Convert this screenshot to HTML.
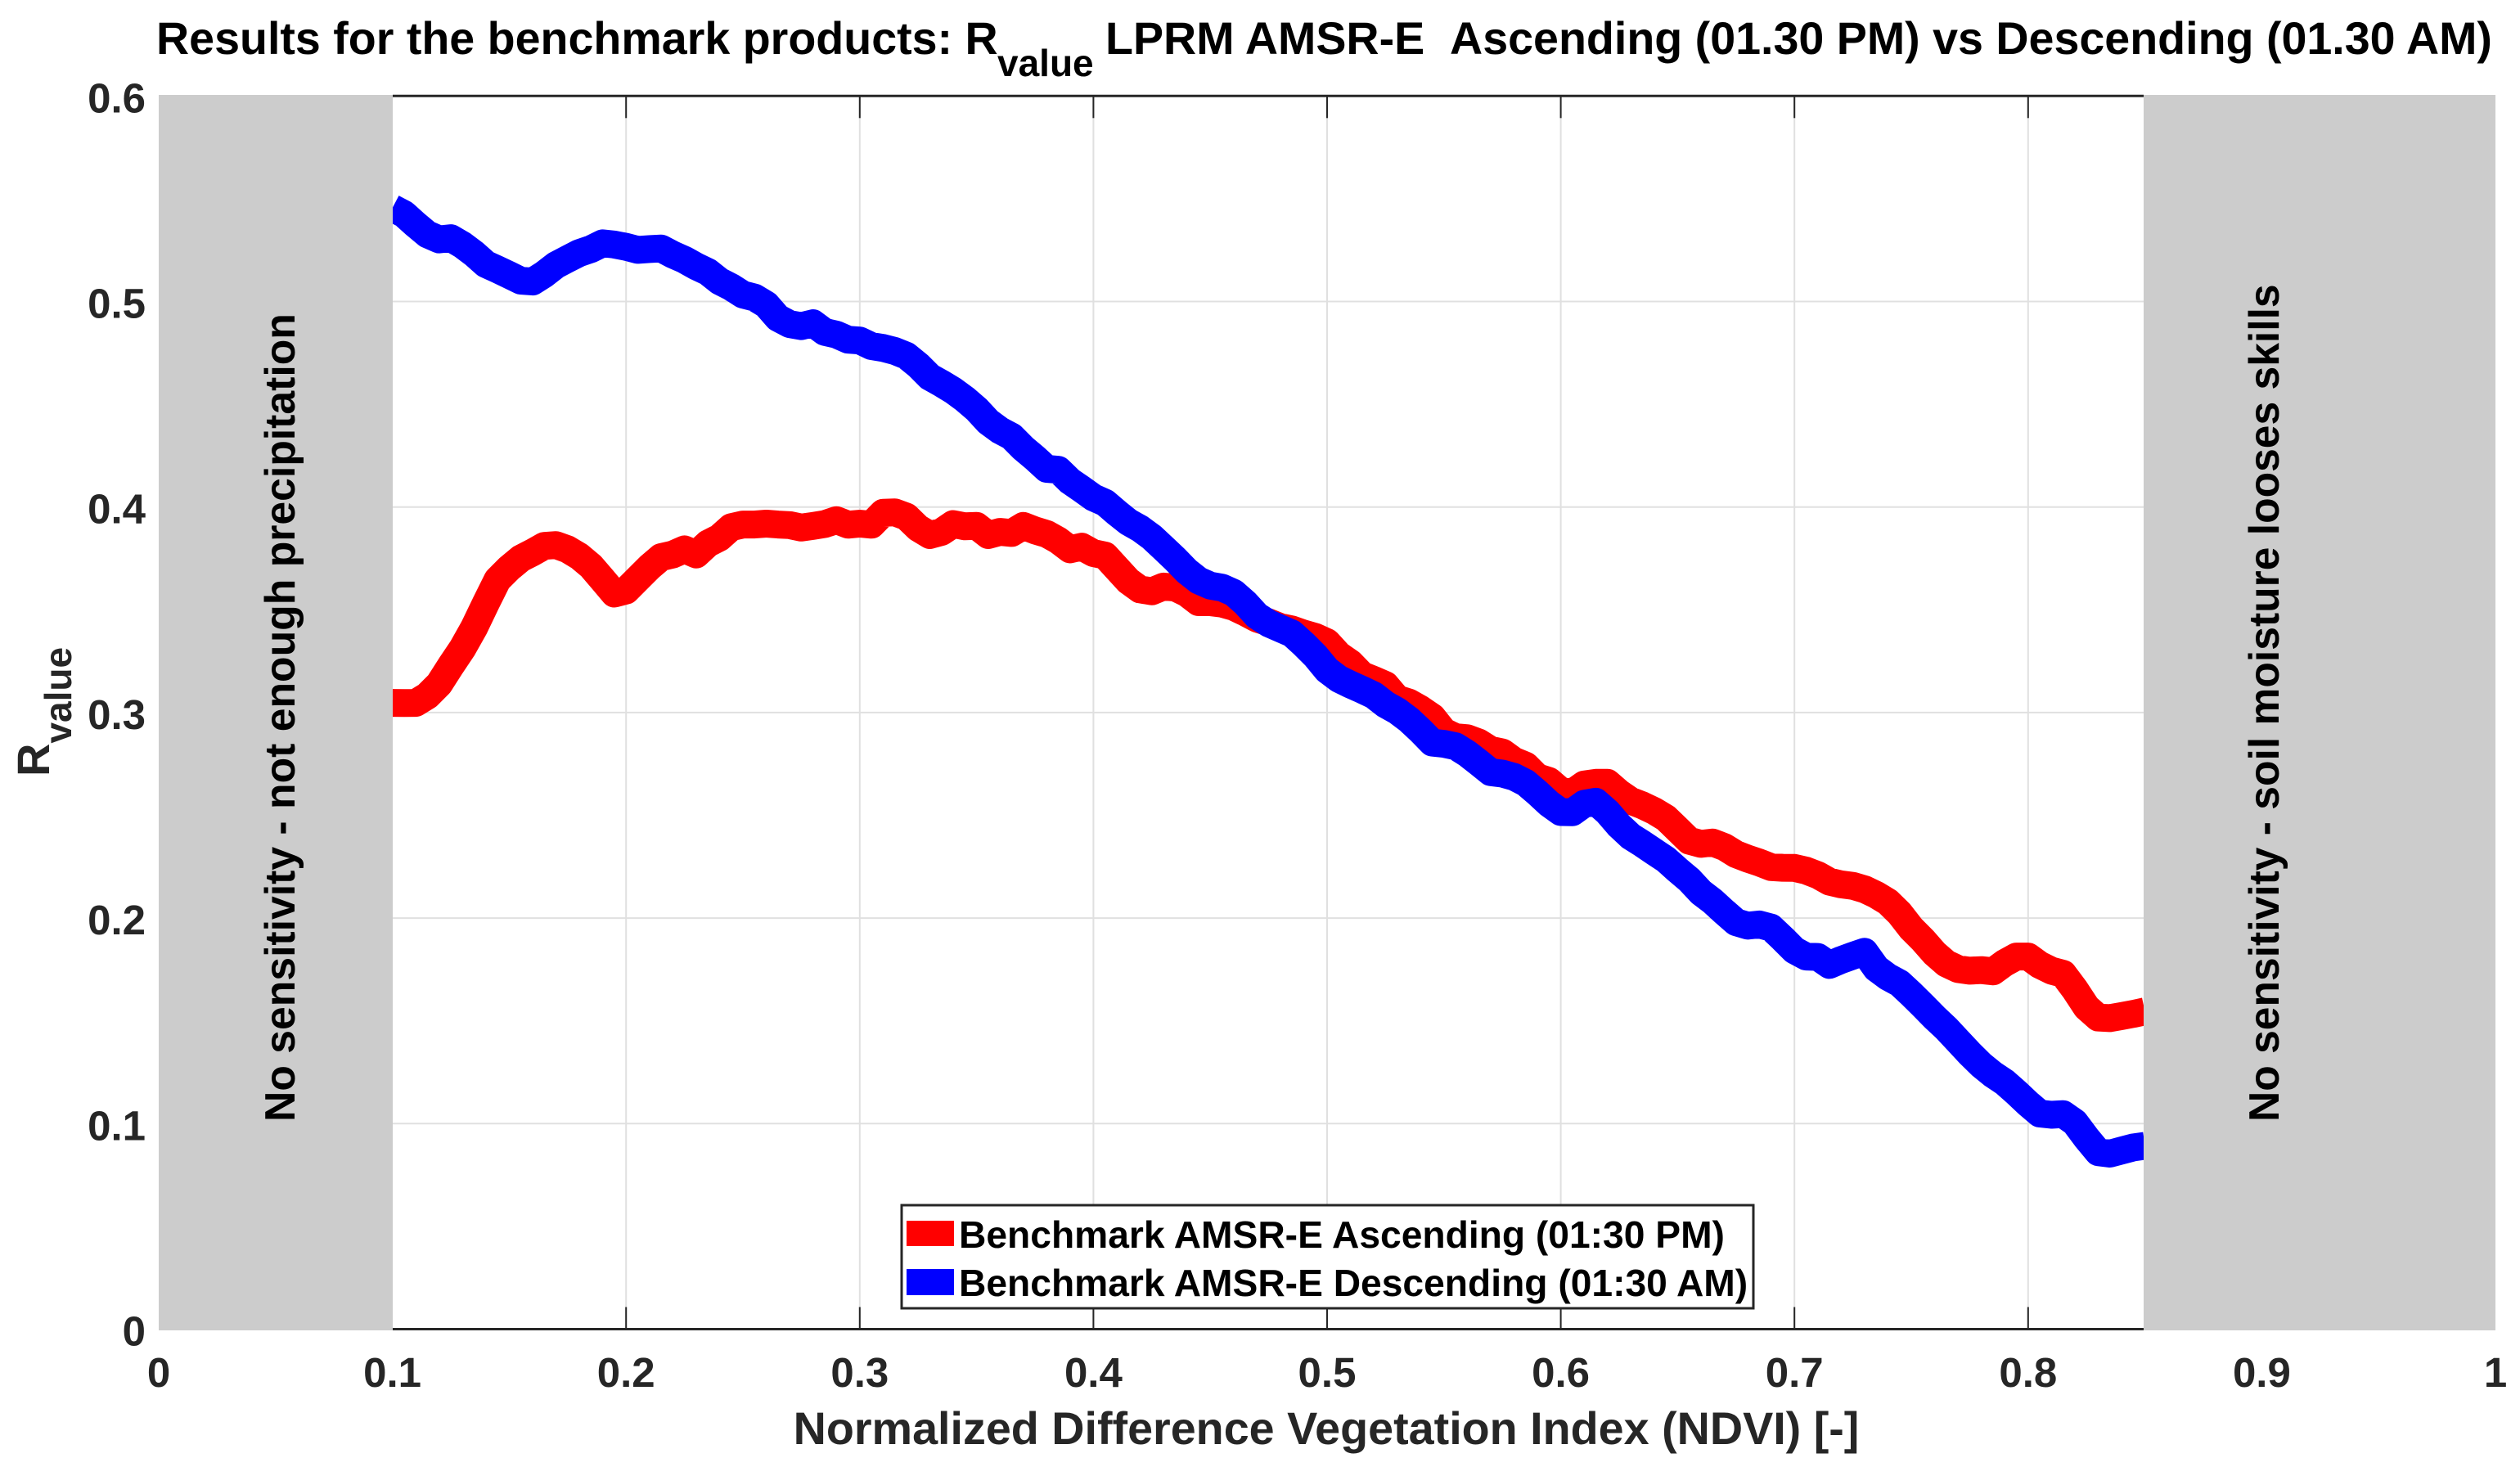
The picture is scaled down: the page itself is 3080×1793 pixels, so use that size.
<!DOCTYPE html>
<html lang="en">
<head>
<meta charset="utf-8">
<title>Benchmark Rvalue chart</title>
<style>
html,body{margin:0;padding:0;background:#fff;width:3080px;height:1793px;overflow:hidden}
svg{display:block;font-family:"Liberation Sans",Arial,sans-serif;font-weight:bold}
</style>
</head>
<body>
<svg id="chart" xmlns="http://www.w3.org/2000/svg" width="3080" height="1793" viewBox="0 0 3080 1793">
<rect width="3080" height="1793" fill="#fff"/>
<g id="grid"></g>
<g id="ticks"></g>
<g id="series"></g>
<rect x="194" y="116" width="286" height="1510" fill="#ccc"/>
<rect x="2620" y="116" width="430" height="1510" fill="#ccc"/>
<g id="ticklabels" font-size="51" fill="#262626"></g>
<text font-size="55.6" fill="#000" y="66"><tspan x="191">Results for the benchmark products: R</tspan><tspan x="1219" dy="27" font-size="46">value</tspan><tspan dy="-27" x="1351">LPRM AMSR-E&#160;&#160;Ascending (01.30 PM) vs Descending (01.30 AM)</tspan></text>
<text font-size="55.7" fill="#262626" x="1621" y="1765" text-anchor="middle">Normalized Difference Vegetation Index (NDVI) [-]</text>
<text font-size="56" fill="#262626" transform="translate(60,949) rotate(-90)">R<tspan dy="27" font-size="46">value</tspan></text>
<text font-size="51.7" fill="#000" transform="translate(360,1371) rotate(-90)">No sensitivity - not enough precipitation</text>
<text font-size="51.6" fill="#000" transform="translate(2785,1371) rotate(-90)">No sensitivity - soil moisture looses skills</text>
<g>
<rect x="1102" y="1473" width="1041" height="126" fill="#fff" stroke="#262626" stroke-width="3"/>
<rect x="1108" y="1492" width="58" height="31" fill="#f00"/>
<text font-size="46.2" fill="#000" x="1172" y="1525">Benchmark AMSR-E Ascending (01:30 PM)</text>
<rect x="1108" y="1551" width="58" height="32" fill="#00f"/>
<text font-size="46.2" fill="#000" x="1172" y="1584">Benchmark AMSR-E Descending (01:30 AM)</text>
</g>
</svg>
<script>
const ndvi = [0.100,0.105,0.110,0.115,0.120,0.125,0.130,0.135,0.140,0.145,0.150,0.155,0.160,0.165,0.170,0.175,0.180,0.185,0.190,0.195,
0.200,0.205,0.210,0.215,0.220,0.225,0.230,0.235,0.240,0.245,0.250,0.255,0.260,0.265,0.270,0.275,0.280,0.285,0.290,0.295,
0.300,0.305,0.310,0.315,0.320,0.325,0.330,0.335,0.340,0.345,0.350,0.355,0.360,0.365,0.370,0.375,0.380,0.385,0.390,0.395,
0.400,0.405,0.410,0.415,0.420,0.425,0.430,0.435,0.440,0.445,0.450,0.455,0.460,0.465,0.470,0.475,0.480,0.485,0.490,0.495,
0.500,0.505,0.510,0.515,0.520,0.525,0.530,0.535,0.540,0.545,0.550,0.555,0.560,0.565,0.570,0.575,0.580,0.585,0.590,0.595,
0.600,0.605,0.610,0.615,0.620,0.625,0.630,0.635,0.640,0.645,0.650,0.655,0.660,0.665,0.670,0.675,0.680,0.685,0.690,0.695,
0.700,0.705,0.710,0.715,0.720,0.725,0.730,0.735,0.740,0.745,0.750,0.755,0.760,0.765,0.770,0.775,0.780,0.785,0.790,0.795,
0.800,0.805,0.810,0.815,0.820,0.825,0.830,0.835,0.840,0.845,0.850];
const ascending = [.3047,.3046,.3047,.3082,.3139,.3228,.3313,.3414,.3532,.3646,.3703,.375,.3779,.3811,.3815,.3794,.376,.3712,.3646,.3579,
.3594,.3651,.3708,.3756,.3769,.3794,.3769,.3822,.3851,.3902,.3915,.3915,.3919,.3915,.3912,.39,.3908,.3917,.3936,.3914,
.3919,.3914,.3972,.3974,.3953,.3898,.3864,.3879,.3917,.3906,.3908,.3864,.3879,.3874,.3908,.3886,.3869,.3837,.3794,.3807,
.3776,.3764,.3702,.364,.3599,.359,.3613,.3608,.3581,.3537,.3537,.353,.3514,.3487,.3457,.3439,.3416,.3404,.3384,.3368,
.3342,.328,.324,.3182,.3159,.3134,.3067,.3049,.3017,.2978,.2907,.288,.2875,.2854,.2818,.2806,.2765,.2742,.2685,.2667,
.2618,.261,.265,.2658,.2658,.2609,.257,.2548,.2521,.2487,.2432,.2376,.2361,.2368,.2346,.2311,.2289,.227,.2248,.2245,
.2244,.2231,.2209,.2177,.2164,.2157,.214,.2113,.2079,.2023,.195,.1893,.1828,.1779,.1752,.1744,.1747,.1741,.1782,.1813,
.1813,.1772,.1744,.1729,.1653,.1566,.1516,.1513,.1523,.1534,.1546];
const descending = [.5455,.5425,.5374,.5327,.5302,.5308,.5275,.5232,.5182,.5156,.5129,.5101,.5097,.5133,.5177,.5207,.5236,.5255,.5283,.5277,
.5266,.5251,.5255,.5258,.5228,.5203,.5171,.5144,.5099,.507,.5034,.5019,.4985,.492,.489,.488,.4894,.4852,.4839,.4814,
.481,.4783,.4774,.4759,.4736,.469,.4633,.4601,.4567,.4525,.4476,.4415,.4373,.4343,.4286,.4238,.4186,.4181,.4126,.4087,
.4046,.4021,.3972,.3927,.3895,.3853,.38,.3746,.3688,.3643,.3618,.3608,.3583,.3533,.3471,.3434,.3409,.3384,.3333,.3276,
.3207,.3164,.3136,.3111,.3084,.304,.3008,.2965,.2912,.2854,.2848,.2836,.28,.2756,.271,.2703,.2687,.2658,.261,.2557,
.2516,.2515,.2556,.2566,.2516,.245,.2397,.2361,.2323,.2285,.2234,.2186,.2125,.2082,.203,.198,.1963,.1969,.1954,.19,
.1843,.1813,.1811,.1772,.1796,.1817,.1836,.1756,.1714,.1683,.163,.1574,.1516,.1463,.1402,.1341,.1285,.1239,.1201,.1151,
.1097,.1049,.1043,.1046,.1006,.093,.0861,.0854,.0869,.0884,.0892];
const xTickValues = [0,0.1,0.2,0.3,0.4,0.5,0.6,0.7,0.8,0.9,1];
const xTickLabels = ["0","0.1","0.2","0.3","0.4","0.5","0.6","0.7","0.8","0.9","1"];
const yTickValues = [0,0.1,0.2,0.3,0.4,0.5,0.6];
const yTickLabels = ["0","0.1","0.2","0.3","0.4","0.5","0.6"];

const NS = "http://www.w3.org/2000/svg";
const plot = {left:194,right:3050,top:117.3,bottom:1624.5,xMax:1,yMax:0.6,innerLeft:480,innerRight:2620};
function xScale(v){return plot.left+(plot.right-plot.left)*v/plot.xMax;}
function yScale(v){return plot.bottom-(plot.bottom-plot.top)*v/plot.yMax;}
function make(tag,attrs,parent){
  const el=document.createElementNS(NS,tag);
  for(const k in attrs){el.setAttribute(k,attrs[k]);}
  parent.appendChild(el);
  return el;
}
const gridG=document.getElementById("grid");
const ticksG=document.getElementById("ticks");
const seriesG=document.getElementById("series");
const labelsG=document.getElementById("ticklabels");

xTickValues.forEach(function(v,i){
  const X=xScale(v);
  if(v>0.1 && v<0.85){
    const g=make("line",{x1:X,x2:X,y1:plot.top,y2:plot.bottom,stroke:"#e0e0e0","stroke-width":2},gridG);
    
    
    const t1=make("line",{x1:X,x2:X,y1:plot.bottom,y2:plot.bottom-27,stroke:"#262626","stroke-width":2},ticksG);
    
    
    const t2=make("line",{x1:X,x2:X,y1:plot.top,y2:plot.top+27,stroke:"#262626","stroke-width":2},ticksG);
    
    
  }
  const lab=make("text",{x:X,y:1695,"text-anchor":"middle"},labelsG);
  lab.textContent=xTickLabels[i];
  
  
});
yTickValues.forEach(function(v,i){
  const Y=yScale(v);
  if(v>0 && v<0.6){
    const g=make("line",{x1:plot.innerLeft,x2:plot.innerRight,y1:Y,y2:Y,stroke:"#e0e0e0","stroke-width":2},gridG);
    
    
  }
  const lab=make("text",{x:178,y:Y+20,"text-anchor":"end"},labelsG);
  lab.textContent=yTickLabels[i];
  
  
});
const topAxis=make("line",{x1:plot.innerLeft,x2:plot.innerRight,y1:plot.top,y2:plot.top,stroke:"#262626","stroke-width":3},ticksG);


const bottomAxis=make("line",{x1:plot.innerLeft,x2:plot.innerRight,y1:plot.bottom,y2:plot.bottom,stroke:"#262626","stroke-width":3},ticksG);



function linePoints(values){
  return values.map(function(v,i){return xScale(ndvi[i]).toFixed(1)+","+yScale(v).toFixed(1);}).join(" ");
}
const redLine=make("polyline",{points:linePoints(ascending),fill:"none",stroke:"#f00","stroke-width":34,"stroke-linejoin":"round"},seriesG);


const blueLine=make("polyline",{points:linePoints(descending),fill:"none",stroke:"#00f","stroke-width":34,"stroke-linejoin":"round"},seriesG);


</script>
</body>
</html>
